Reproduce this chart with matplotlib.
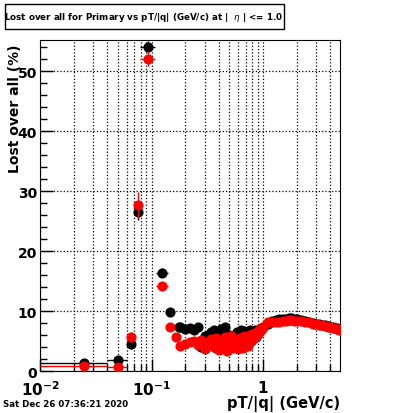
#!/usr/bin/env python
# -*- coding: utf-8 -*-
import matplotlib
matplotlib.use("Agg")
import matplotlib.pyplot as plt
from matplotlib.ticker import LogLocator, MultipleLocator, FixedFormatter, FixedLocator
from matplotlib.patches import Rectangle

# wide bins at low pT (centre, half width)
black_x = [0.025, 0.05, 0.065, 0.075, 0.093, 0.125, 0.147, 0.177]
black_xerr = [0.015, 0.01, 0.005, 0.005, 0.014, 0.016, 0.006, 0.006]
black_y = [1.3, 1.9, 4.5, 26.6, 54.1, 16.4, 9.8, 7.3]
black_yerr = [0.3, 0.5, 0.8, 1.5, 1.0, 0.8, 0.5, 0.5]

red_x = [0.025, 0.05, 0.065, 0.075, 0.093, 0.125, 0.147, 0.165]
red_xerr = [0.015, 0.01, 0.005, 0.005, 0.014, 0.016, 0.006, 0.006]
red_y = [0.9, 0.7, 5.7, 27.7, 52.1, 14.1, 7.4, 5.6]
red_yerr = [0.3, 0.4, 0.8, 2.2, 1.2, 0.6, 0.5, 0.5]

# fine bins above 0.18 GeV/c
cloud_x = [0.18, 0.20, 0.22, 0.24, 0.26, 0.28, 0.30, 0.32, 0.34, 0.36,
           0.38, 0.40, 0.42, 0.44, 0.46, 0.48, 0.50, 0.52, 0.54, 0.56,
           0.58, 0.60, 0.62, 0.64, 0.66, 0.68, 0.70, 0.72, 0.74, 0.76,
           0.78, 0.80, 0.82, 0.84, 0.86, 0.88, 0.90, 0.92, 0.94, 0.96,
           0.98, 1.0, 1.1, 1.2, 1.3, 1.4, 1.5, 1.6, 1.7, 1.8,
           1.9, 2.0, 2.2, 2.4, 2.6, 2.8, 3.0, 3.2, 3.4, 3.6,
           3.8, 4.0, 4.2, 4.4, 4.6, 4.8, 5.0]
cloud_black = [7.3, 7.0, 7.2, 6.8, 7.3, 4.0, 5.8, 6.0, 6.5, 6.8,
               3.8, 6.2, 7.0, 6.4, 7.3, 5.5, 6.0, 4.0, 5.2, 6.0,
               6.5, 5.0, 6.3, 6.8, 5.5, 6.6, 6.3, 4.5, 6.5, 6.9,
               5.0, 6.7, 6.2, 6.8, 5.6, 6.3, 6.8, 6.5, 6.9, 7.0,
               7.2, 7.4, 7.9, 8.4, 8.5, 8.6, 8.6, 8.7, 8.8, 8.8,
               8.7, 8.7, 8.5, 8.4, 8.2, 8.0, 7.9, 7.8, 7.7, 7.6,
               7.5, 7.4, 7.3, 7.2, 7.1, 7.0, 6.9]
cloud_red = [4.2, 4.5, 4.8, 5.0, 4.3, 5.2, 3.6, 4.8, 5.3, 4.0,
             5.5, 3.5, 5.0, 4.2, 5.6, 3.4, 4.8, 5.8, 3.8, 5.2,
             4.5, 3.6, 5.5, 4.8, 3.8, 5.9, 4.6, 5.6, 4.2, 6.0,
             5.2, 6.1, 5.3, 6.3, 5.9, 6.5, 6.2, 6.9, 6.6, 7.1,
             7.0, 7.3, 8.1, 8.1, 8.2, 8.2, 8.3, 8.4, 8.5, 8.5,
             8.4, 8.4, 8.3, 8.2, 8.1, 7.9, 7.8, 7.7, 7.6, 7.5,
             7.4, 7.3, 7.2, 7.1, 7.0, 6.9, 6.8]

fig = plt.figure(figsize=(4.0, 4.14), dpi=100)
ax = fig.add_axes([0.1, 0.1014, 0.75, 0.7996])

ms = 6.3
ax.errorbar(black_x, black_y, xerr=black_xerr, yerr=black_yerr, fmt='o',
            color='black', ms=ms, elinewidth=1.0, capsize=0, zorder=3)
ax.errorbar(red_x, red_y, xerr=red_xerr, yerr=red_yerr, fmt='o',
            color='red', ms=ms, elinewidth=1.0, capsize=0, zorder=4)
ax.plot(cloud_x, cloud_black, 'o', color='black', ms=ms, zorder=3)
ax.plot(cloud_x, cloud_red, 'o', color='red', ms=ms, zorder=4)

ax.set_xscale('log')
ax.set_xlim(0.01, 4.9)
ax.set_ylim(0, 55.2)

ax.xaxis.set_major_locator(FixedLocator([0.01, 0.1, 1]))
ax.xaxis.set_major_formatter(FixedFormatter([r'$\mathbf{10^{-2}}$',
                                             r'$\mathbf{10^{-1}}$',
                                             r'$\mathbf{1}$']))
ax.xaxis.set_minor_locator(LogLocator(base=10, subs=range(2, 10)))
ax.xaxis.set_minor_formatter(FixedFormatter([]))
ax.yaxis.set_major_locator(MultipleLocator(10))
ax.yaxis.set_minor_locator(MultipleLocator(2))

ax.tick_params(which='both', direction='in', top=False, right=False)
ax.tick_params(which='major', length=9, width=1)
ax.tick_params(which='minor', length=5, width=1)
ax.tick_params(axis='x', which='major', pad=6)
ax.tick_params(axis='y', which='major', pad=2)
for lab in ax.get_yticklabels():
    lab.set_fontweight('bold')
    lab.set_fontsize(10)
for lab in ax.get_xticklabels():
    lab.set_fontsize(11)

ax.grid(which='both', axis='x', color='black', linestyle=':', linewidth=0.9)
ax.grid(which='major', axis='y', color='black', linestyle=':', linewidth=0.9)
ax.set_axisbelow(True)

ax.set_ylabel('Lost over all (%)', fontsize=10, fontweight='bold', loc='top')
ax.yaxis.set_label_coords(-0.06, 0.99)
ax.set_xlabel('pT/|q| (GeV/c)', fontsize=10.5, fontweight='bold', loc='right',
              labelpad=-2)

# title box
fig.patches.append(Rectangle((5 / 400, 1 - 30 / 414), 279 / 400, 25 / 414,
                             transform=fig.transFigure, fill=True,
                             facecolor='white', edgecolor='black', lw=1))
fig.text(144 / 400, 1 - 17.5 / 414,
         r'Lost over all for Primary vs pT/|q| (GeV/c) at |  $\eta$ | <= 1.0',
         ha='center', va='center', fontsize=6.3, fontweight='bold')

fig.text(3 / 400, 1 - 405 / 414, 'Sat Dec 26 07:36:21 2020',
         ha='left', va='center', fontsize=6.2, fontweight='bold')

fig.savefig('out.png', dpi=100)
